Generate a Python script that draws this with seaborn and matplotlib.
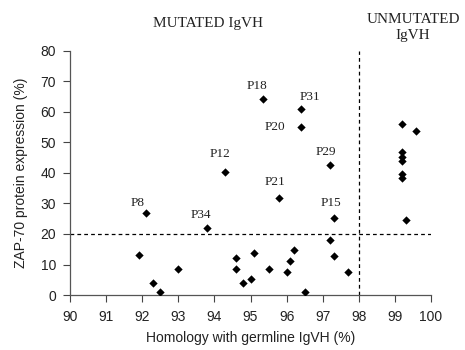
import matplotlib
matplotlib.use("Agg")
import matplotlib.pyplot as plt
import seaborn as sns
import pandas as pd

# Homology with germline IgVH (%) vs ZAP-70 protein expression (%)
homology = [92.1, 91.9, 92.3, 92.5, 93.0, 93.8, 94.3, 94.6, 94.6, 94.8,
            95.0, 95.1, 95.35, 95.5, 95.8, 96.0, 96.1, 96.2, 96.4, 96.4,
            96.5, 97.2, 97.3, 97.2, 97.3, 97.7,
            99.19, 99.58, 99.19, 99.19, 99.19, 99.19, 99.19, 99.3]
zap70 = [26.9, 13.1, 3.9, 1.0, 8.5, 21.9, 40.3, 12.1, 8.5, 3.9,
         5.2, 13.8, 64.2, 8.6, 31.9, 7.6, 11.2, 14.6, 60.9, 55.1,
         1.0, 42.5, 25.1, 17.9, 12.8, 7.6,
         56.0, 53.8, 46.7, 45.3, 43.9, 39.8, 38.4, 24.6]
patient = ["P8", "", "", "", "", "P34", "P12", "", "", "",
           "", "", "P18", "", "P21", "", "", "", "P31", "P20",
           "", "P29", "P15", "", "", "",
           "", "", "", "", "", "", "", ""]

# label offsets in pixels (dx, dy) relative to the point
offsets = {"P8": (-8, 10), "P34": (-6, 13), "P12": (-5, 18), "P18": (-6, 13),
           "P31": (9, 12), "P20": (-26, 0), "P29": (-4, 13), "P21": (-4, 16),
           "P15": (-3, 15)}

df = pd.DataFrame({"homology": homology, "zap70": zap70, "patient": patient})

sns.set_style("ticks")
plt.rcParams["font.family"] = ["Liberation Sans", "DejaVu Sans"]

fig = plt.figure(figsize=(4.65, 3.5), dpi=100)
ax = fig.add_axes([0.1505, 0.157, 0.7765, 0.698])

sns.scatterplot(data=df, x="homology", y="zap70", marker="D", color="black",
                s=18, edgecolor="black", linewidth=0, ax=ax, zorder=3)

ax.axhline(20, color="black", linestyle=(0, (3, 2.5)), linewidth=0.9)
ax.axvline(98, color="black", linestyle=(0, (3, 2.5)), linewidth=0.9)

for _, row in df[df["patient"] != ""].iterrows():
    dx, dy = offsets[row["patient"]]
    ax.annotate(row["patient"], (row["homology"], row["zap70"]),
                xytext=(dx, dy), textcoords="offset pixels",
                ha="center", va="center", fontsize=9.5,
                family="Liberation Serif", color="#222222")

ax.set_xlim(90, 100)
ax.set_ylim(0, 80)
ax.set_xticks(range(90, 101))
ax.set_yticks(range(0, 81, 10))
ax.tick_params(labelsize=10, length=5, width=0.8, colors="#444444",
               labelcolor="#222222")
ax.tick_params(axis="x", pad=6)
ax.tick_params(axis="y", pad=5)
for sp in ["left", "bottom"]:
    ax.spines[sp].set_color("#555555")
    ax.spines[sp].set_linewidth(0.9)
sns.despine(ax=ax)

ax.set_xlabel("Homology with germline IgVH (%)", fontsize=10, color="#222222",
              labelpad=5)
ax.set_ylabel("ZAP-70 protein expression (%)", fontsize=10, color="#222222",
              labelpad=9)

fig.text(0.447, 0.934, "MUTATED IgVH", ha="center", va="center", fontsize=11,
         family="Liberation Serif", color="#222222")
fig.text(0.888, 0.921, "UNMUTATED\nIgVH", ha="center", va="center",
         fontsize=11, family="Liberation Serif", color="#222222",
         linespacing=1.25)

fig.savefig("out.png", dpi=100)
